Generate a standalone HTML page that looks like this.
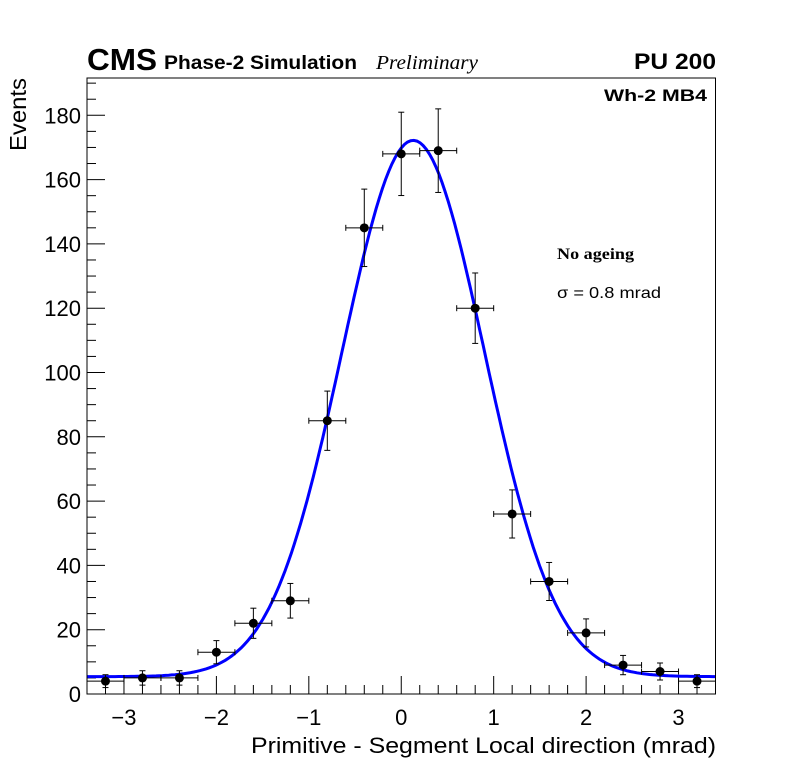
<!DOCTYPE html>
<html><head><meta charset="utf-8"><style>
body{margin:0;background:#fff;}
svg text{font-family:"Liberation Sans",sans-serif;}
</style></head><body>
<svg id="c" width="796" height="772" xmlns="http://www.w3.org/2000/svg">
<rect width="796" height="772" fill="#fff"/>
<g id="ticks"></g>
<g id="marks"></g>
<rect x="87" y="78" width="628.5" height="616" fill="none" stroke="#000" stroke-width="1"/>
<text x="87" y="70" font-size="31" font-weight="bold" textLength="70" lengthAdjust="spacingAndGlyphs">CMS</text>
<text x="164" y="69" font-size="19" font-weight="bold" textLength="193" lengthAdjust="spacingAndGlyphs">Phase-2 Simulation</text>
<text x="376" y="69" font-size="20" font-style="italic" textLength="102" lengthAdjust="spacingAndGlyphs" style="font-family:'Liberation Serif',serif">Preliminary</text>
<text x="716" y="69" font-size="22" font-weight="bold" text-anchor="end" textLength="82" lengthAdjust="spacingAndGlyphs">PU 200</text>
<text x="707" y="101" font-size="17" font-weight="bold" text-anchor="end" textLength="103" lengthAdjust="spacingAndGlyphs">Wh-2 MB4</text>
<text x="557" y="259" font-size="16" font-weight="bold" textLength="77" lengthAdjust="spacingAndGlyphs" style="font-family:'Liberation Serif',serif">No ageing</text>
<text x="557" y="298" font-size="16" textLength="104" lengthAdjust="spacingAndGlyphs">σ = 0.8 mrad</text>
<text x="716" y="753" font-size="22" text-anchor="end" textLength="465" lengthAdjust="spacingAndGlyphs">Primitive - Segment Local direction (mrad)</text>
<text transform="translate(26,78) rotate(-90)" font-size="23" text-anchor="end" textLength="73" lengthAdjust="spacingAndGlyphs">Events</text>
</svg>
<script>
const binCenters=[-3.2,-2.8,-2.4,-2.0,-1.6,-1.2,-0.8,-0.4,0,0.4,0.8,1.2,1.6,2.0,2.4,2.8,3.2];
const counts=[4,5,5,13,22,29,85,145,168,169,120,56,35,19,9,7,4];
const binHalfWidth=0.2;
const fitParams=[5.4,166.8,0.13,0.77]; // const, amplitude, mean, sigma
const xTicks=[-3,-2,-1,0,1,2,3];
const xTickLabels=["\u22123","\u22122","\u22121","0","1","2","3"];
const yTicks=[0,20,40,60,80,100,120,140,160,180];
const xMin=-3.4,xMax=3.4,yMin=0,yMax=191.6;
const L=87,R=715.5,T=78,B=694;
const X=v=>L+(v-xMin)/(xMax-xMin)*(R-L);
const Y=v=>B-(v-yMin)/(yMax-yMin)*(B-T);
const NS="http://www.w3.org/2000/svg";
function mk(t,a,p){const e=document.createElementNS(NS,t);for(const k in a)e.setAttribute(k,a[k]);p.appendChild(e);return e;}
const tg=document.getElementById('ticks'),mg=document.getElementById('marks');
for(let v=-3.4;v<=3.401;v+=0.2){const r=Math.round(v*5)/5;const major=Math.abs(r-Math.round(r))<1e-6;
 const l=mk('line',{x1:X(r),x2:X(r),y1:B,y2:B-(major?18:9),stroke:'#000','stroke-width':1},tg);
 }
for(let v=0;v<=yMax;v+=5){const major=v%20===0;
 const l=mk('line',{x1:L,x2:L+(major?18:9),y1:Y(v),y2:Y(v),stroke:'#000','stroke-width':1},tg);
 }
xTicks.forEach((v,i)=>{const t=mk('text',{x:X(v),y:725,'font-size':22,'text-anchor':'middle'},tg);t.textContent=xTickLabels[i];
 });
yTicks.forEach(v=>{const t=mk('text',{x:81,y:Y(v)+8,'font-size':22,'text-anchor':'end'},tg);t.textContent=v;
 });
const f=x=>fitParams[0]+fitParams[1]*Math.exp(-Math.pow(x-fitParams[2],2)/(2*fitParams[3]*fitParams[3]));
let d='';for(let i=0;i<=200;i++){const x=xMin+(xMax-xMin)*i/200;d+=(i?'L':'M')+X(x).toFixed(1)+','+Y(f(x)).toFixed(1);}
const fc=mk('path',{d:d,fill:'none',stroke:'#0000ff','stroke-width':3},mg);

binCenters.forEach((c,i)=>{const n=counts[i],e=Math.sqrt(n);const g=mk('g',{},mg);
 
 const cx=X(c),cy=Y(n);
 mk('line',{x1:X(c-binHalfWidth),x2:X(c+binHalfWidth),y1:cy,y2:cy,stroke:'#000','stroke-width':1},g);
 mk('line',{x1:cx,x2:cx,y1:Y(n+e),y2:Y(Math.max(0,n-e)),stroke:'#000','stroke-width':1},g);
 [X(c-binHalfWidth),X(c+binHalfWidth)].forEach(x=>mk('line',{x1:x,x2:x,y1:cy-3,y2:cy+3,stroke:'#000','stroke-width':1},g));
 [Y(n+e),Y(Math.max(0,n-e))].forEach(y=>mk('line',{x1:cx-3,x2:cx+3,y1:y,y2:y,stroke:'#000','stroke-width':1},g));
 mk('circle',{cx:cx,cy:cy,r:4.5,fill:'#000'},g);
});
</script>
</body></html>
